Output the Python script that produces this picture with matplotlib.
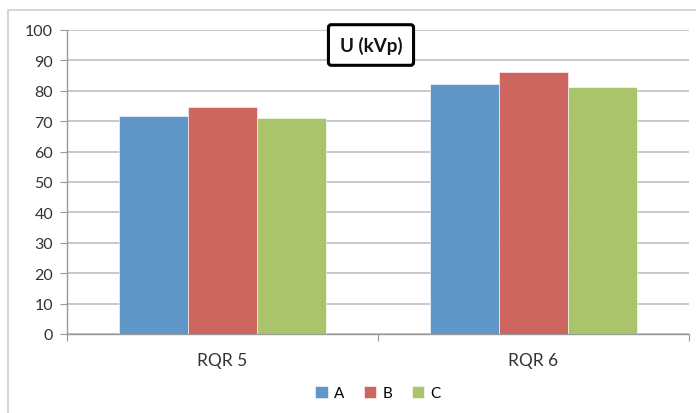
import matplotlib.pyplot as plt
import matplotlib.patches as mpatches
import numpy as np

plt.rcParams['font.family'] = ['Lato', 'DejaVu Sans']

categories = ["RQR 5", "RQR 6"]
series = ["A", "B", "C"]
values_a = [71.6, 82.2]
values_b = [74.6, 86.1]
values_c = [71.2, 81.3]
colors = ["#6196c9", "#cd665f", "#a9c46b"]
yticks = [0, 10, 20, 30, 40, 50, 60, 70, 80, 90, 100]

W, H = 696, 414
fig = plt.figure(figsize=(W / 100, H / 100), dpi=100)

# outer chart frame (runs off the right and bottom edges)
frame = mpatches.Rectangle((8 / W, -0.05), 1.1, 1 - 11 / H + 0.05,
                           transform=fig.transFigure, fill=False,
                           edgecolor="#d0d0d0", linewidth=1.2)
fig.patches.append(frame)

ax = fig.add_axes([67 / W, 1 - 335 / H, 622 / W, 304 / H])

x = np.arange(len(categories))
width = 2 / 9
handles = []
for i, (name, vals) in enumerate(zip(series, [values_a, values_b, values_c])):
    h = ax.bar(x + (i - 1) * width, vals, width, color=colors[i],
               edgecolor="white", linewidth=0.4, label=name, zorder=3)
    handles.append(h)

ax.set_xlim(-0.5, len(categories) - 0.5)
ax.set_ylim(0, 100)
ax.set_yticks(yticks)
ax.yaxis.grid(True, color="#bfbfbf", linewidth=1.2, zorder=0)

ax.set_xticks(np.arange(len(categories) + 1) - 0.5)
ax.set_xticklabels([])
ax.set_xticks(x, minor=True)
ax.set_xticklabels(categories, minor=True, fontsize=12.5, color="#333333")
ax.tick_params(axis="x", which="minor", length=0, pad=13)
ax.tick_params(axis="x", which="major", length=5, color="#999999")
ax.tick_params(axis="y", length=5, color="#999999", labelsize=11.5,
               labelcolor="#333333", pad=5)

for s in ["top", "right"]:
    ax.spines[s].set_visible(False)
for s in ["left", "bottom"]:
    ax.spines[s].set_color("#999999")
    ax.spines[s].set_linewidth(1.0)

fig.text(371 / W, 1 - 46 / H, "U (kVp)", ha="center", va="center",
         fontsize=13.5, fontweight="bold", color="#111111",
         bbox=dict(boxstyle="round,pad=0.6,rounding_size=0.15",
                   facecolor="white", edgecolor="black", linewidth=2.2))

fig.legend(handles, series, loc="center", bbox_to_anchor=(378 / W, 1 - 394 / H),
           ncol=3, frameon=False, fontsize=11, handlelength=0.8,
           handleheight=0.8, handletextpad=0.4, columnspacing=1.3)

fig.savefig("out.png", dpi=100)
